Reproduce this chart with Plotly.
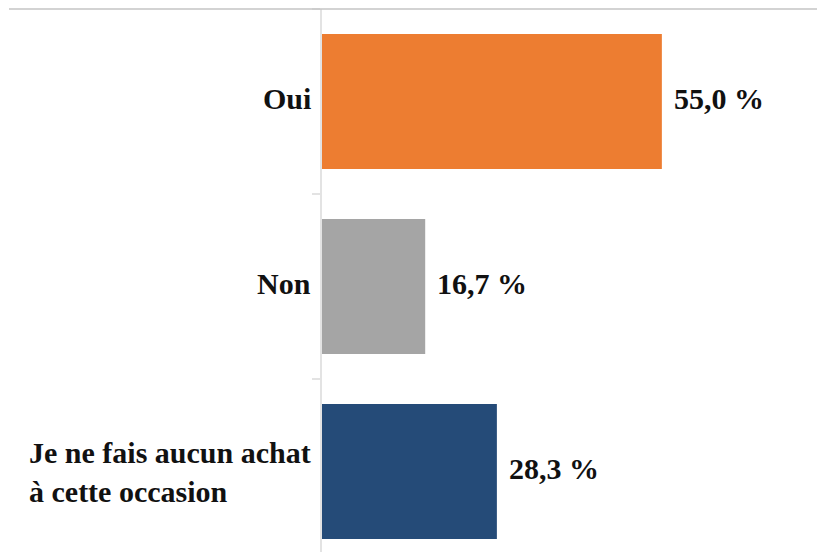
import plotly.graph_objects as go

categories = ["Oui", "Non", "Je ne fais aucun achat<br>à cette occasion"]
values = [55.0, 16.7, 28.3]
value_labels = ["55,0 %", "16,7 %", "28,3 %"]
colors = ["#ED7D31", "#A5A5A5", "#254B78"]

FONT = "Liberation Serif"

fig = go.Figure()
fig.add_trace(go.Bar(
    x=values, y=categories, orientation="h",
    marker=dict(color=colors, line=dict(width=0)),
    hoverinfo="skip",
))

annotations = []
for c, v, t in zip(categories, values, value_labels):
    annotations.append(dict(
        x=v, y=c, xref="x", yref="y", text="<b>%s</b>" % t,
        showarrow=False, xanchor="left", yanchor="middle", xshift=10, yshift=3,
        font=dict(family=FONT, size=30, color="#111111"),
    ))
    annotations.append(dict(
        x=0, y=c, xref="paper", yref="y", text="<b>%s</b>" % c,
        showarrow=False, xanchor="right", yanchor="middle", xshift=-9,
        yshift=0 if "<br>" in c else 3,
        align="left",
        font=dict(family=FONT, size=30, color="#111111"),
    ))

fig.update_layout(
    width=817, height=544,
    margin=dict(l=314, r=0, t=1, b=0),
    paper_bgcolor="white", plot_bgcolor="white",
    bargap=0.27,
    showlegend=False,
    annotations=annotations,
    shapes=[dict(type="line", xref="paper", yref="paper",
                 x0=(9 - 322) / 503, x1=1, y0=1, y1=1,
                 line=dict(color="#C4C4C4", width=1.5), layer="above")],
)
fig.update_xaxes(range=[0, 81.4], showgrid=False, zeroline=False,
                 showticklabels=False, showline=False)
fig.update_yaxes(range=[2.435, -0.5], showgrid=False, zeroline=False,
                 showticklabels=False, showline=True, linecolor="#E3E3E3",
                 linewidth=1.5, ticks="outside", tickson="boundaries",
                 ticklen=8, tickcolor="#E3E3E3", tickwidth=1.5)

fig.write_html("out.html")
